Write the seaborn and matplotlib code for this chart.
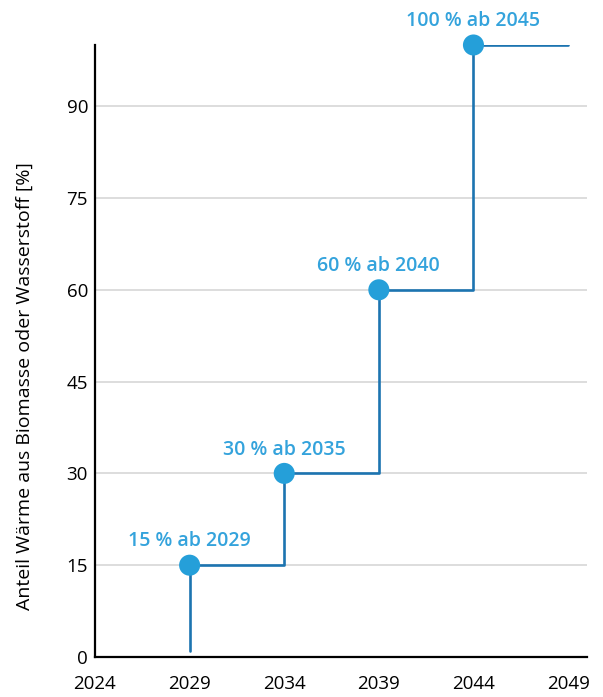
import matplotlib
matplotlib.use("Agg")
import matplotlib.pyplot as plt
import seaborn as sns
import pandas as pd

# Mandatory share of heat from biomass or hydrogen, stepped by year
years = [2029, 2034, 2039, 2044]
shares = [15, 30, 60, 100]
labels = ["15 % ab 2029", "30 % ab 2035", "60 % ab 2040", "100 % ab 2045"]
start_share = 1
end_year = 2049
x_ticks = [2024, 2029, 2034, 2039, 2044, 2049]
y_ticks = [0, 15, 30, 45, 60, 75, 90]
y_title = "Anteil Wärme aus Biomasse oder Wasserstoff [%]"

sns.set_theme(style="white")
plt.rcParams["font.family"] = ["Open Sans", "DejaVu Sans"]

line_color = "#1c74b0"
dot_color = "#259fd9"
text_color = "#34a3dc"

fig = plt.figure(figsize=(6.03, 6.97), dpi=100)
ax = fig.add_axes([95 / 603, 40 / 697, 492 / 603, 612 / 697])

# step path: vertical rise at each year, then flat until the next one
step_x = [years[0]]
step_y = [start_share]
for i, (yr, s) in enumerate(zip(years, shares)):
    step_x.append(yr)
    step_y.append(s)
    nxt = years[i + 1] if i + 1 < len(years) else end_year
    step_x.append(nxt)
    step_y.append(s)
path = pd.DataFrame({"Jahr": step_x, "Anteil": step_y})
sns.lineplot(data=path, x="Jahr", y="Anteil", sort=False, estimator=None,
             errorbar=None, color=line_color, linewidth=1.9, ax=ax, zorder=3)

pts = pd.DataFrame({"Jahr": years, "Anteil": shares})
sns.scatterplot(data=pts, x="Jahr", y="Anteil", color=dot_color, s=230,
                edgecolor="none", ax=ax, zorder=4, clip_on=False)

for yr, s, lab in zip(years, shares, labels):
    ax.annotate(lab, (yr, s), xytext=(0, 10), textcoords="offset points",
                ha="center", va="bottom", color=text_color, fontsize=14,
                fontweight="semibold", annotation_clip=False)

ax.set_xlim(2024, 2050)
ax.set_ylim(0, 100)
ax.set_xticks(x_ticks)
ax.set_yticks(y_ticks)
ax.set_xticklabels([str(t) for t in x_ticks], fontsize=13.5, color="black")
ax.set_yticklabels([str(t) for t in y_ticks], fontsize=13.5, color="black")
ax.tick_params(axis="x", length=0, pad=13)
ax.tick_params(axis="y", direction="in", length=17, width=1.5, color="black", pad=5)

ax.yaxis.grid(True, color="#dddddd", linewidth=1.4)
ax.xaxis.grid(False)
ax.set_axisbelow(True)

for side in ["top", "right"]:
    ax.spines[side].set_visible(False)
for side in ["left", "bottom"]:
    ax.spines[side].set_color("black")
    ax.spines[side].set_linewidth(1.6)

ax.set_xlabel("")
ax.set_ylabel(y_title, fontsize=14, color="black")
ax.yaxis.set_label_coords((25 - 95) / 492, (657 - 386) / 612)
ax.yaxis.label.set_va("center")

fig.savefig("out.png", dpi=100)
